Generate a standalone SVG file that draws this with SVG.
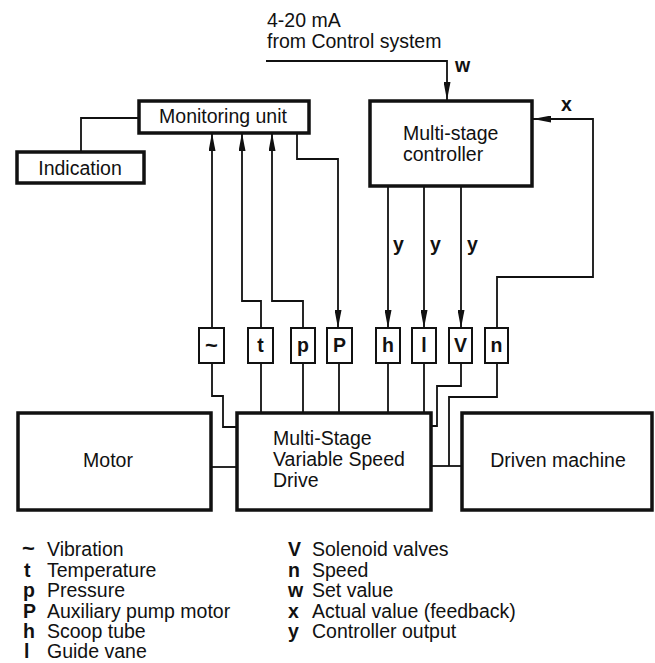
<svg xmlns="http://www.w3.org/2000/svg" width="655" height="663" viewBox="0 0 655 663">
<style>
  text { font-family: "Liberation Sans", Arial, sans-serif; font-size: 19.5px; fill: #111; }
  .b { font-weight: bold; }
  .tl { font-size: 22px; font-weight: bold; }
  .big { fill: #fff; stroke: #111; stroke-width: 3.5; }
  .sen { fill: #fff; stroke: #111; stroke-width: 2; }
  .ln { fill: none; stroke: #111; stroke-width: 1.8; }
  .mid { text-anchor: middle; }
</style>
<defs>
  <marker id="ah" viewBox="0 0 18 7" refX="18" refY="3.5" markerWidth="18" markerHeight="7" markerUnits="userSpaceOnUse" orient="auto">
    <path d="M0,0 L18,3.5 L0,7 Z" fill="#111"/>
  </marker>
</defs>
<rect width="655" height="663" fill="#fff"/>

<g id="connectors">
  <polyline class="ln" points="266,61 447,61 447,100" marker-end="url(#ah)"/>
  <polyline class="ln" points="139,118 81,118 81,152"/>
  <polyline class="ln" points="212,328 212,133" marker-end="url(#ah)"/>
  <polyline class="ln" points="261,328 261,301 242,301 242,133" marker-end="url(#ah)"/>
  <polyline class="ln" points="303,328 303,301 272,301 272,133" marker-end="url(#ah)"/>
  <polyline class="ln" points="297,133 297,159 338,159 338,328" marker-end="url(#ah)"/>
  <polyline class="ln" points="388,186 388,328" marker-end="url(#ah)"/>
  <polyline class="ln" points="424,186 424,328" marker-end="url(#ah)"/>
  <polyline class="ln" points="461,186 461,328" marker-end="url(#ah)"/>
  <polyline class="ln" points="497,329 497,277 593,277 593,119 533,119" marker-end="url(#ah)"/>
  <polyline class="ln" points="212,363 212,396 223,396 223,427 237,427"/>
  <polyline class="ln" points="261,363 261,413"/>
  <polyline class="ln" points="303,363 303,413"/>
  <polyline class="ln" points="339,363 339,413"/>
  <polyline class="ln" points="388,363 388,413"/>
  <polyline class="ln" points="424,363 424,413"/>
  <polyline class="ln" points="461,363 461,386 437,386 437,426 431,426"/>
  <polyline class="ln" points="497,363 497,397 449,397 449,466"/>
  <line class="ln" x1="211" y1="467" x2="237" y2="467"/>
  <line class="ln" x1="431" y1="466" x2="462" y2="466"/>
</g>

<g id="labels">
  <text x="267" y="27">4-20 mA</text>
  <text x="267" y="48">from Control system</text>
  <text class="b" x="455" y="72">w</text>
  <text class="b" x="561" y="111">x</text>
  <text class="b" x="393" y="251">y</text>
  <text class="b" x="430" y="251">y</text>
  <text class="b" x="467" y="251">y</text>
</g>

<g id="monitoring">
  <rect class="big" x="139" y="101" width="170" height="32"/>
  <text class="mid" x="223" y="123">Monitoring unit</text>
</g>
<g id="indication">
  <rect class="big" x="17" y="152" width="127" height="31"/>
  <text class="mid" x="80" y="175">Indication</text>
</g>
<g id="controller">
  <rect class="big" x="370" y="101" width="162" height="85"/>
  <text x="403" y="140">Multi-stage</text>
  <text x="403" y="161">controller</text>
</g>

<g id="s-vib"><rect class="sen" x="199" y="328" width="25" height="35"/><text class="tl mid" x="211.5" y="353">~</text></g>
<g id="s-t"><rect class="sen" x="248" y="328" width="25" height="35"/><text class="b mid" x="260.5" y="352">t</text></g>
<g id="s-p"><rect class="sen" x="291" y="328" width="24" height="35"/><text class="b mid" x="303" y="352">p</text></g>
<g id="s-P"><rect class="sen" x="327" y="328" width="25" height="35"/><text class="b mid" x="339.5" y="352">P</text></g>
<g id="s-h"><rect class="sen" x="376" y="328" width="24" height="35"/><text class="b mid" x="388" y="352">h</text></g>
<g id="s-l"><rect class="sen" x="412" y="328" width="24" height="35"/><text class="b mid" x="424" y="352">l</text></g>
<g id="s-V"><rect class="sen" x="449" y="328" width="23" height="35"/><text class="b mid" x="460.5" y="352">V</text></g>
<g id="s-n"><rect class="sen" x="485" y="328" width="23" height="35"/><text class="b mid" x="496.5" y="352">n</text></g>

<g id="motor">
  <rect class="big" x="18" y="413" width="193" height="97"/>
  <text class="mid" x="108" y="467">Motor</text>
</g>
<g id="drive">
  <rect class="big" x="237" y="413" width="194" height="97"/>
  <text x="273" y="445">Multi-Stage</text>
  <text x="273" y="466">Variable Speed</text>
  <text x="273" y="487">Drive</text>
</g>
<g id="driven">
  <rect class="big" x="462" y="413" width="190" height="97"/>
  <text class="mid" x="558" y="467">Driven machine</text>
</g>

<g id="legend">
  <text class="tl" x="22" y="556">~</text><text x="47" y="556">Vibration</text>
  <text class="b" x="24" y="577">t</text><text x="47" y="577">Temperature</text>
  <text class="b" x="23" y="597">p</text><text x="47" y="597">Pressure</text>
  <text class="b" x="23" y="618">P</text><text x="47" y="618">Auxiliary pump motor</text>
  <text class="b" x="23" y="638">h</text><text x="47" y="638">Scoop tube</text>
  <text class="b" x="24" y="658">l</text><text x="47" y="658">Guide vane</text>
  <text class="b" x="288" y="556">V</text><text x="312" y="556">Solenoid valves</text>
  <text class="b" x="288" y="577">n</text><text x="312" y="577">Speed</text>
  <text class="b" x="288" y="597">w</text><text x="312" y="597">Set value</text>
  <text class="b" x="288" y="618">x</text><text x="312" y="618">Actual value (feedback)</text>
  <text class="b" x="288" y="638">y</text><text x="312" y="638">Controller output</text>
</g>
</svg>
